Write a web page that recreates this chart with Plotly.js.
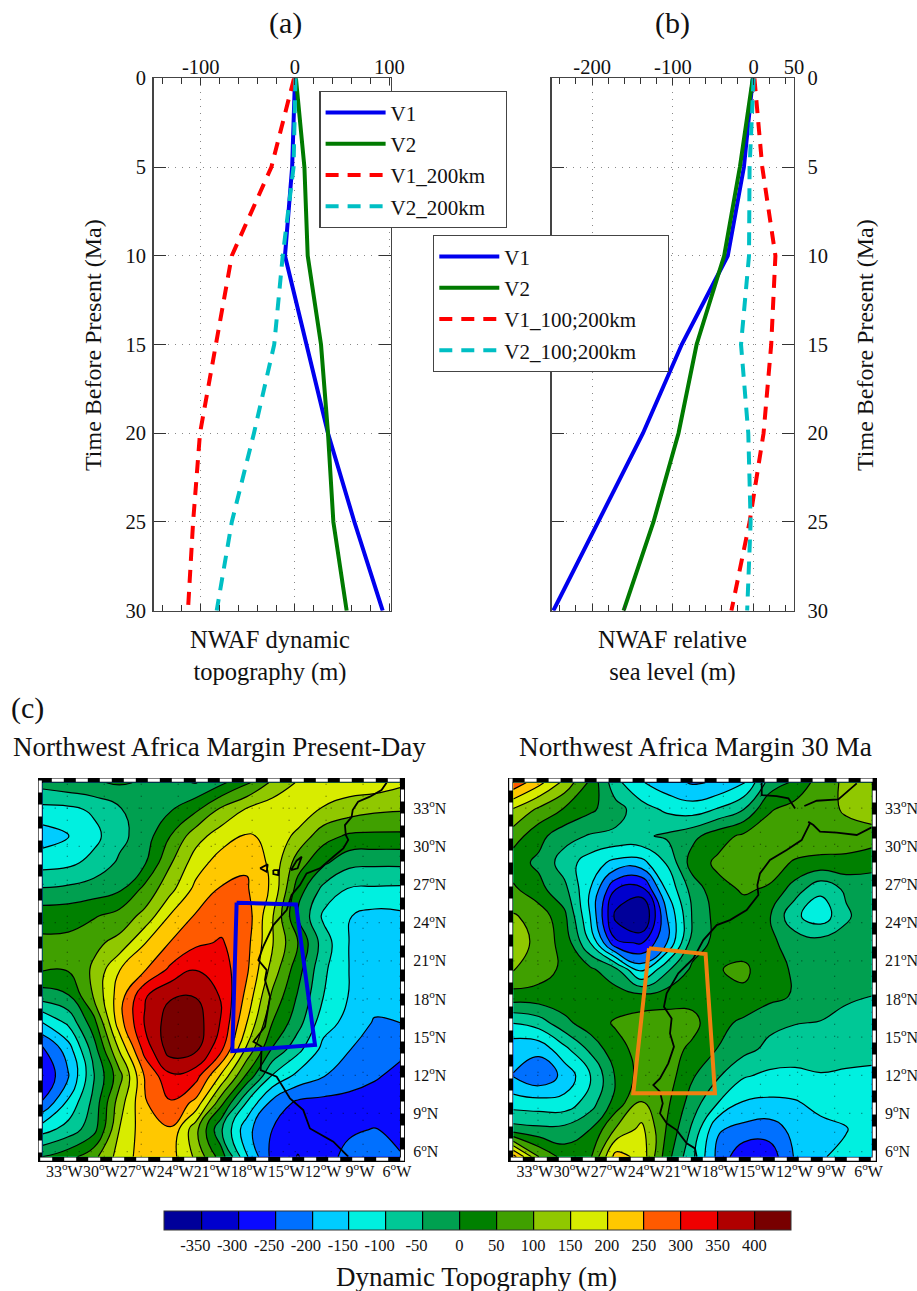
<!DOCTYPE html>
<html><head><meta charset="utf-8">
<script src="https://cdn.plot.ly/plotly-3.0.1.min.js"></script>
<style>html,body{margin:0;padding:0;background:#fff}</style></head>
<body><div id="chart" style="width:917px;height:1291px"></div>
<script>
const SERIF = '"Liberation Serif","Times New Roman",serif';
// ---- profile panels: time before present (Ma) ----
const depth = [0,5,10,15,20,25,30];
const aV1 = [0,-3,-10.6,12,35,63,93];
const aV2 = [1,10,13.5,27.6,35,40.7,54.8];
const aV1km = [-1,-25,-67,-84,-100.7,-108,-113.5];
const aV2km = [0.5,-1.5,-13,-22,-43.5,-67,-83];
const bV1 = [-1,-12,-32,-89,-137,-193,-248];
const bV2 = [-1,-17,-36.5,-70.6,-93,-124,-161];
const bV1km = [1,10.7,27,21.8,12.3,-5,-27.5];
const bV2km = [0,-5,-5.7,-15.6,-6.6,-3.7,-8];
// ---- maps ----
const lons = [-35,-32.93,-30.86,-28.78,-26.71,-24.64,-22.57,-20.5,-18.43,-16.36,-14.29,-12.21,-10.14,-8.07,-6];
const lats = [35,32.9,30.81,28.71,26.61,24.52,22.42,20.33,18.23,16.13,14.04,11.94,9.84,7.75,5.6];
const zPresent = [
[-30,-15,-5,5,-5,-40,-52,-10,40,110,155,175,178,178,160],
[-115,-112,-92,-55,-25,-5,40,110,155,180,190,145,125,110,105],
[-175,-151,-115,-65,-25,50,130,175,205,190,135,70,42,40,40],
[-120,-112,-85,-42,-5,95,175,225,245,185,75,10,-35,-40,-40],
[-45,-38,-25,-8,65,135,215,255,255,190,25,-65,-105,-108,-110],
[30,32,45,70,115,205,255,280,275,155,0,-110,-148,-165,-160],
[60,62,88,115,198,252,290,305,265,155,50,-75,-150,-170,-175],
[55,55,108,198,245,310,348,325,258,130,20,-90,-150,-172,-178],
[-25,-5,105,225,345,395,398,345,235,90,-5,-100,-152,-180,-190],
[-150,-90,30,228,355,425,425,345,200,50,-30,-130,-165,-205,-200],
[-260,-175,-25,155,320,425,410,310,140,-5,-85,-165,-198,-220,-240],
[-295,-205,-55,80,255,340,320,190,40,-105,-165,-198,-228,-245,-262],
[-245,-140,-35,125,245,295,235,65,-105,-215,-260,-265,-265,-270,-280],
[-120,-80,-20,150,230,245,115,-45,-185,-250,-280,-278,-258,-248,-270],
[0,30,85,170,225,220,140,25,-145,-265,-302,-270,-235,-222,-245]];
const z30Ma = [
[285,215,135,40,-85,-145,-180,-205,-195,-155,-30,10,75,110,130],
[145,90,45,10,-30,-78,-110,-125,-95,-50,45,70,85,105,128],
[75,15,-30,-55,-60,-58,-42,-15,30,60,75,82,85,85,78],
[20,-10,-75,-125,-165,-168,-95,25,60,78,70,45,35,32,15],
[60,15,-35,-150,-300,-320,-142,-30,35,55,45,-25,-90,-40,-25],
[105,80,12,-150,-365,-420,-200,-45,20,30,5,-90,-130,-60,-12],
[145,75,35,-100,-290,-305,-200,-25,15,20,10,-20,-30,-25,-8],
[105,72,40,10,-40,-170,-60,10,47,62,15,-5,-12,-15,-15],
[30,32,35,32,25,15,25,32,35,38,15,-5,-25,-40,-50],
[-98,-75,-15,30,55,75,75,65,15,-10,-38,-48,-52,-70,-80],
[-185,-185,-115,-40,35,65,70,40,-2,-35,-62,-75,-80,-80,-82],
[-202,-240,-185,-105,5,70,75,5,-45,-95,-112,-112,-103,-108,-112],
[-125,-130,-132,-75,20,105,60,-25,-100,-155,-160,-155,-135,-125,-115],
[-30,-38,-35,0,105,165,45,-60,-195,-215,-225,-185,-165,-153,-130],
[270,100,30,40,220,185,20,-90,-215,-290,-280,-195,-155,-135,-125]];
const bandColors = ['#00009a','#0000cd','#0a0aff','#0070ff','#00ccff','#00f0e0','#00c896','#00a050','#008000','#40a000','#90c800','#d8ec00','#ffc800','#ff5a00','#f00000','#b00000','#780000'];
const barTicks = [-350,-300,-250,-200,-150,-100,-50,0,50,100,150,200,250,300,350,400];
const barLabels = ['-350','-300','-250','-200','-150','-100','-50','0','50','100','150','200','250','300','350','400'];
const coastPresentLon = [-7.09,-7.5,-8.44,-9.4,-9.84,-9.93,-10.47,-10.4,-10.2,-10.6,-11.41,-12.5,-13.58,-14.12,-14.8,-15.2,-16.28,-17.1,-17.5,-16.82,-16.96,-16.55,-16.96,-17.9,-17.23,-17.31,-16.01,-14.93,-13.85,-13.31,-11.41,-10.2,null,-17.36,-16.74,-16.82,-17.36,null,-16.28,-15.88,-15.88,-16.28,-16.28,null,-14.85,-14.39,-13.98,-14.31,-14.85];
const coastPresentLat = [35,34.42,33.9,33.5,32.85,32.3,31.67,30.89,30.5,29.84,29.18,28.27,27.87,26.95,26.17,24.99,23.81,22.11,21.06,20.27,19.49,18.18,15.82,14.64,14.25,12.41,11.89,10.18,9.26,7.82,6.78,5.6,null,28.27,28.58,28,28.27,null,28.13,28.13,27.74,27.82,28.13,null,28.13,28.87,29.18,28.27,28.13];
const coast30Lon = [-14.9,-14.9,-13.69,-12.74,-12.2,null,-11.45,-10.45,-8.7,-8.02,-7.21,null,-6,-7.21,-8.83,-10.18,-10.72,-11.13,-11,-11.67,-12.88,-14.23,-15.04,-15.25,-15.17,-16.12,-17.47,-18.54,-19.62,-20.43,-21.65,-22.59,-22.81,-22.19,-22.32,-22,-22.46,-23.13,-23.67,-23.13,-22.91,-23.13,-22.59,-21.78,-20.97,-20.3,-20.16];
const coast30Lat = [35,34.03,33.95,33.77,32.98,null,33.17,33.58,33.69,34.29,34.95,null,31.49,30.89,31.07,31.15,31.67,31.93,31.8,30.49,29.71,28.92,27.87,26.95,26.17,24.99,24.2,23.81,22.63,21.19,20.01,18.44,17.39,16.47,15.29,14.25,12.94,11.76,11.23,10.71,9.79,9,8.22,7.69,6.65,6.25,5.6];
const boxPresentLon = [-19.26,-14.44,-12.9,-19.61,-19.26];
const boxPresentLat = [25.57,25.43,14.38,13.9,25.57];
const box30Lon = [-24.02,-19.44,-18.68,-25.29,-24.02];
const box30Lat = [21.98,21.53,10.58,10.58,21.98];
const lonTicks = [-33,-30,-27,-24,-21,-18,-15,-12,-9,-6];
const lonLabels = ['33<sup>o</sup>W','30<sup>o</sup>W','27<sup>o</sup>W','24<sup>o</sup>W','21<sup>o</sup>W','18<sup>o</sup>W','15<sup>o</sup>W','12<sup>o</sup>W','9<sup>o</sup>W','6<sup>o</sup>W'];
const latTicks = [33,30,27,24,21,18,15,12,9,6];
const latLabels = ['33<sup>o</sup>N','30<sup>o</sup>N','27<sup>o</sup>N','24<sup>o</sup>N','21<sup>o</sup>N','18<sup>o</sup>N','15<sup>o</sup>N','12<sup>o</sup>N','9<sup>o</sup>N','6<sup>o</sup>N'];
const lonRange = [-35,-6];
const latRange = [5.6,35];

const W=917,H=1291;
const dx=(a,b)=>[a/W,b/W], dy=(t,b)=>[1-b/H,1-t/H];
const stops=[]; bandColors.forEach((c,i)=>{stops.push([i/17,c]);stops.push([(i+1)/17,c]);});

function prof(x,name,color,dash,xa,ya,leg){
  return {type:'scatter',mode:'lines',x:x,y:depth,name:name,xaxis:xa,yaxis:ya,legend:leg,legendgroup:leg+name,
    line:{color:color,width:4,dash:dash?'13px,9px':'solid'},hoverinfo:'skip'};
}
function contour(z,xa,ya,bar){
  const t={type:'contour',x:lons,y:lats,z:z,xaxis:xa,yaxis:ya,zmin:-400,zmax:450,colorscale:stops,
    contours:{coloring:'fill',start:-350,end:400,size:50,showlines:true},
    line:{color:'#000',width:1.2,smoothing:1.3},hoverinfo:'skip',showlegend:false,showscale:bar};
  if(bar) t.colorbar={orientation:'h',x:164.3/W,xanchor:'left',xref:'paper',xpad:0,y:1-1211/H,yanchor:'top',yref:'paper',ypad:0,
    len:627.3,lenmode:'pixels',thickness:19,thicknessmode:'pixels',outlinecolor:'#333',outlinewidth:1,
    tickmode:'array',tickvals:barTicks.map(v=>v<0?v-8:v),ticktext:barLabels,tickangle:0,
    ticks:'',tickfont:{family:SERIF,size:16.5,color:'#111'},ticklabelposition:'outside bottom',ticklabelstandoff:2};
  return t;
}
function ln(x,y,xa,ya,color,w,dash){
  return {type:'scatter',mode:'lines',x:x,y:y,xaxis:xa,yaxis:ya,showlegend:false,hoverinfo:'skip',connectgaps:false,
    line:{color:color,width:w,dash:dash||'solid'}};
}
function graticule(){
  const gx=[],gy=[];
  latTicks.forEach(v=>{gx.push(lonRange[0],lonRange[1],null);gy.push(v,v,null);});
  lonTicks.forEach(v=>{gx.push(v,v,null);gy.push(latRange[0],latRange[1],null);});
  return [gx,gy];
}
const [gx,gy]=graticule();
const NB3='\u00A0\u00A0\u00A0', NB5='\u00A0\u00A0\u00A0\u00A0\u00A0';
const data=[
  prof(aV1,'V1','#0000ee',false,'x','y','legend'),
  prof(aV2,'V2','#007a00',false,'x','y','legend'),
  prof(aV1km,'V1_200km'+NB3,'#ff0000',true,'x','y','legend'),
  prof(aV2km,'V2_200km'+NB3,'#00bfc4',true,'x','y','legend'),
  prof(bV1,'V1','#0000ee',false,'x2','y2','legend2'),
  prof(bV2,'V2','#007a00',false,'x2','y2','legend2'),
  prof(bV1km,'V1_100;200km'+NB5,'#ff0000',true,'x2','y2','legend2'),
  prof(bV2km,'V2_100;200km'+NB5,'#00bfc4',true,'x2','y2','legend2'),
  contour(zPresent,'x3','y3',true),
  contour(z30Ma,'x4','y4',false),
  ln(gx,gy,'x3','y3','rgba(0,0,0,.5)',1.2,'1px,11px'),
  ln(gx,gy,'x4','y4','rgba(0,0,0,.5)',1.2,'1px,11px'),
  ln(coastPresentLon,coastPresentLat,'x3','y3','#000',1.8),
  ln(coast30Lon,coast30Lat,'x4','y4','#000',1.8),
  ln(boxPresentLon,boxPresentLat,'x3','y3','#0000e6',4),
  ln(box30Lon,box30Lat,'x4','y4','#f08010',4)
];
function profX(dom,range,vals){return {domain:dom,range:range,side:'top',showline:true,mirror:'allticks',linecolor:'#444',linewidth:1.3,
  ticks:'inside',ticklen:7,tickcolor:'#333',tickmode:'array',tickvals:vals,ticktext:vals.map(String),tickfont:{family:SERIF,size:20.5,color:'#111'},ticklabelstandoff:-5,
  showgrid:true,gridcolor:'#888',griddash:'1px,6px',gridwidth:1,zeroline:false,minor:{dtick:20,tick0:0,ticks:'inside',ticklen:6,tickcolor:'#333',showgrid:false}};}
function profY(dom,side,off){return {domain:dom,range:[30,0],side:side,showline:true,mirror:'allticks',linecolor:'#444',linewidth:1.3,
  ticks:'inside',ticklen:12,tickcolor:'#333',tick0:0,dtick:5,tickfont:{family:SERIF,size:20.5,color:'#111'},
  showgrid:true,gridcolor:'#888',griddash:'1px,6px',gridwidth:1,zeroline:false,ticklabelstandoff:off};}
function mapX(dom,anchor){return {domain:dom,range:lonRange,anchor:anchor,showline:true,mirror:true,linecolor:'#000',linewidth:5,layer:'below traces',
  showgrid:false,zeroline:false,ticks:'',tickmode:'array',tickvals:lonTicks.map(v=>v-0.25),ticktext:lonLabels,tickfont:{family:SERIF,size:16,color:'#111'},tickangle:0,ticklabelstandoff:-4};}
function mapY(dom,anchor){return {domain:dom,range:latRange,anchor:anchor,side:'right',showline:true,mirror:true,linecolor:'#000',linewidth:5,layer:'below traces',
  showgrid:false,zeroline:false,ticks:'',tickmode:'array',tickvals:latTicks,ticktext:latLabels,tickfont:{family:SERIF,size:16,color:'#111'},ticklabelstandoff:5};}
function note(text,x,y,size,angle){return {text:text,xref:'paper',yref:'paper',x:x/W,y:1-y/H,showarrow:false,xanchor:'center',yanchor:'middle',
  font:{family:SERIF,size:size,color:'#111'},textangle:angle||0};}
function legend(x,y){return {x:x/W,y:1-y/H,xanchor:'left',yanchor:'top',xref:'paper',yref:'paper',bgcolor:'#fff',bordercolor:'#444',borderwidth:1.3,
  font:{family:SERIF,size:21,color:'#111'},itemwidth:60,traceorder:'grouped',tracegroupgap:1,itemclick:false,itemdoubleclick:false};}
function frameDashes(l,r,t,b){return {type:'rect',xref:'paper',yref:'paper',x0:(l-2.5)/W,x1:(r+2.5)/W,y0:1-(b+2.5)/H,y1:1-(t-2.5)/H,layer:'above',
  fillcolor:'rgba(0,0,0,0)',line:{color:'#fff',width:3.2,dash:'12px,12px'}};}
const layout={width:W,height:H,margin:{l:0,r:0,t:0,b:0},paper_bgcolor:'#fff',plot_bgcolor:'#fff',showlegend:true,
  xaxis:Object.assign(profX(dx(153.5,391),[-150,101.8],[-100,0,100]),{anchor:'y'}),
  yaxis:Object.assign(profY(dy(78.3,610.7),'left',2),{anchor:'x'}),
  xaxis2:Object.assign(profX(dx(551.7,794),[-250,50],[-200,-100,0,50]),{anchor:'y2'}),
  yaxis2:Object.assign(profY(dy(78.3,610.7),'right',8),{anchor:'x2'}),
  xaxis3:mapX(dx(42.7,400),'y3'), yaxis3:mapY(dy(782.7,1156.7),'x3'),
  xaxis4:mapX(dx(513.3,871.7),'y4'), yaxis4:mapY(dy(782.7,1156.7),'x4'),
  legend:legend(319.3,91),
  legend2:legend(433,235),
  shapes:[frameDashes(42.7,400,782.7,1156.7),frameDashes(513.3,871.7,782.7,1156.7)],
  annotations:[
    note('(a)',285,23,30), note('(b)',672,23,30), note('(c)',27,708,30),
    note('Time Before Present (Ma)',93,345,24,-90), note('Time Before Present (Ma)',865,345,24,-90),
    note('NWAF dynamic<br>topography (m)',270,656,24.5), note('NWAF relative<br>sea level (m)',672,656,24.5),
    note('Northwest Africa Margin Present-Day',219,747,27), note('Northwest Africa Margin 30 Ma',695,747,27.3),
    note('Dynamic Topography (m)',477,1277,27)
  ]};
Plotly.newPlot('chart',data,layout,{displayModeBar:false,staticPlot:true});
</script></body></html>
